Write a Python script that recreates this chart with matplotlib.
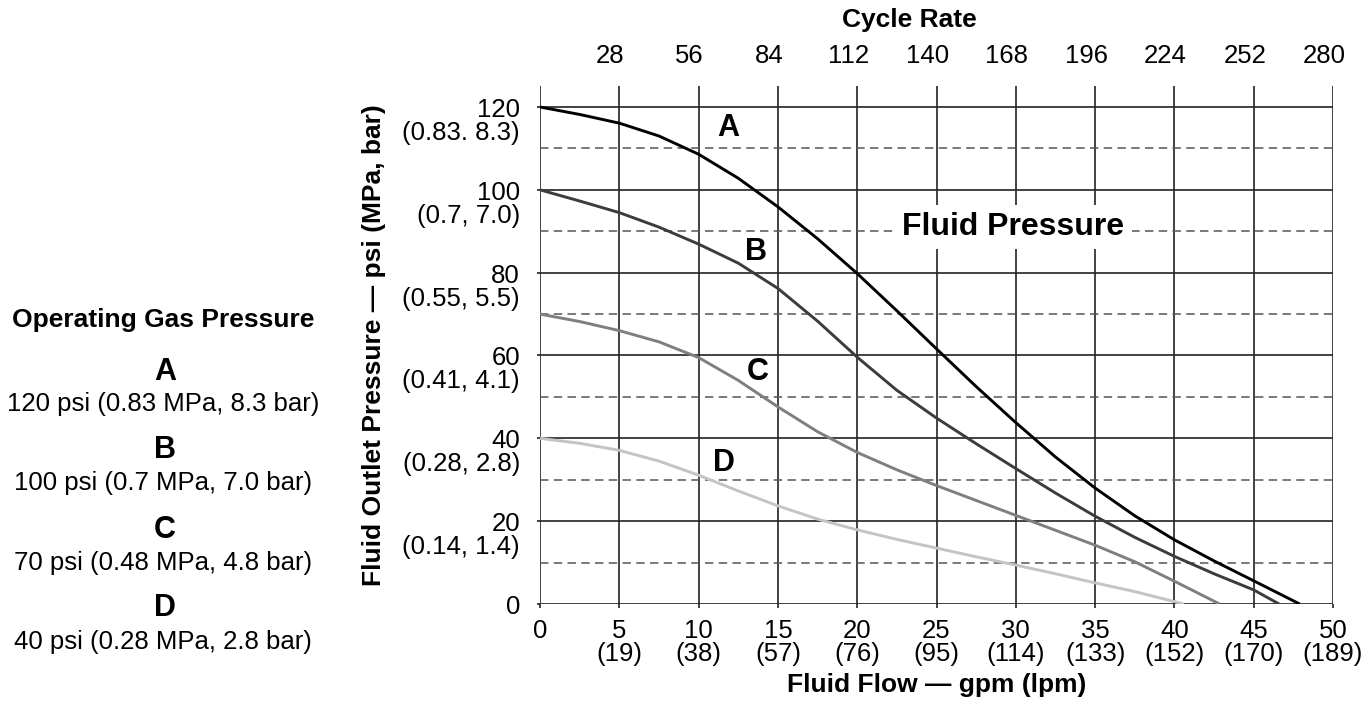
import matplotlib
matplotlib.use("Agg")
import matplotlib.pyplot as plt
from matplotlib.transforms import ScaledTranslation, blended_transform_factory

plt.rcParams['font.family'] = ['Liberation Sans', 'DejaVu Sans']

# ---------------- data ----------------
flow_A = [0, 2.5, 5, 7.5, 10, 12.5, 15, 17.5, 20, 22.5, 25, 27.5, 30, 32.5, 35, 37.5, 40, 42.5, 45, 47.9]
psi_A = [120, 118.2, 116.1, 113.0, 108.6, 102.8, 95.9, 88.2, 79.8, 70.8, 61.6, 52.5, 43.8, 35.5, 28.0, 21.3, 15.5, 10.4, 5.6, 0]

flow_B = [0, 2.5, 5, 7.5, 10, 12.5, 15, 17.5, 20, 22.5, 25, 27.5, 30, 32.5, 35, 37.5, 40, 42.5, 45, 46.6]
psi_B = [100, 97.3, 94.5, 91.0, 86.9, 82.3, 76.2, 68.3, 59.6, 51.6, 44.9, 38.7, 32.7, 26.8, 21.2, 16.1, 11.5, 7.3, 3.4, 0]

flow_C = [0, 2.5, 5, 7.5, 10, 12.5, 15, 17.5, 20, 22.5, 25, 27.5, 30, 32.5, 35, 37.5, 40, 42.85]
psi_C = [70, 68.2, 66.0, 63.3, 59.5, 54.0, 47.6, 41.6, 36.6, 32.4, 28.6, 25.0, 21.4, 17.8, 14.2, 10.2, 5.5, 0]

flow_D = [0, 2.5, 5, 7.5, 10, 12.5, 15, 17.5, 20, 22.5, 25, 27.5, 30, 32.5, 35, 37.5, 40.6]
psi_D = [40, 38.8, 37.1, 34.5, 31.1, 27.3, 23.7, 20.5, 17.9, 15.6, 13.5, 11.4, 9.4, 7.3, 5.1, 3.0, 0]

curve_names = ['A', 'B', 'C', 'D']
curve_colors = ['#000000', '#3c3c3c', '#7f7f7f', '#c4c4c4']

flow_ticks = [0, 5, 10, 15, 20, 25, 30, 35, 40, 45, 50]
lpm_labels = ['', '(19)', '(38)', '(57)', '(76)', '(95)', '(114)', '(133)', '(152)', '(170)', '(189)']

cycle_ticks = [28, 56, 84, 112, 140, 168, 196, 224, 252, 280]
cycles_per_gpm = 280 / 50

psi_ticks = [0, 20, 40, 60, 80, 100, 120]
metric_labels = ['', '(0.14, 1.4)', '(0.28, 2.8)', '(0.41, 4.1)', '(0.55, 5.5)', '(0.7, 7.0)', '(0.83. 8.3)']
psi_minor = [10, 30, 50, 70, 90, 110]

legend_psi = ['120 psi (0.83 MPa, 8.3 bar)', '100 psi (0.7 MPa, 7.0 bar)',
              '70 psi (0.48 MPa, 4.8 bar)', '40 psi (0.28 MPa, 2.8 bar)']

# ---------------- figure ----------------
W, H = 1366, 702
fig = plt.figure(figsize=(W / 100, H / 100), dpi=100)
ax = fig.add_axes([540 / W, 1 - 604 / H, (1333 - 540) / W, (604 - 86) / H])
ax.set_xlim(0, 50)
ax.set_ylim(0, 125.07)
for s in ax.spines.values():
    s.set_visible(False)

ax.set_xticks(flow_ticks)
ax.set_yticks(psi_ticks)
ax.set_yticks(psi_minor, minor=True)
ax.grid(which='major', axis='both', color='#222222', lw=1.2, zorder=1)
ax.grid(which='minor', axis='y', color='#555555', lw=1.1, linestyle=(0, (5.5, 3.5)), zorder=1)
ax.tick_params(axis='y', which='major', length=2.5, width=1.2, color='#222222', labelleft=False)
ax.tick_params(axis='y', which='minor', length=0, labelleft=False)
ax.tick_params(axis='x', which='major', length=3, width=1.2, color='#222222', direction='out',
               pad=8, labelsize=18.5)
ax.set_xticklabels([f"{f}\n{l}" if l else f"{f}" for f, l in zip(flow_ticks, lpm_labels)],
                   linespacing=0.95)

# curves
for fx, py, col in zip([flow_A, flow_B, flow_C, flow_D], [psi_A, psi_B, psi_C, psi_D], curve_colors):
    ax.plot(fx, py, color=col, lw=2.1, zorder=3, solid_capstyle='butt', solid_joinstyle='round')

# curve letters
letter_pos = [(11.9, 115.0), (13.6, 85.0), (13.7, 56.0), (11.6, 34.0)]
for name, (lx, ly) in zip(curve_names, letter_pos):
    ax.text(lx, ly, name, fontsize=22, fontweight='bold', ha='center', va='center', zorder=4)

ax.text(29.85, 89.2, 'Fluid Pressure', fontsize=23, fontweight='bold', ha='center', va='baseline',
        zorder=4, bbox=dict(facecolor='white', edgecolor='none', pad=5))

# y tick labels (two lines)
ytr = blended_transform_factory(ax.transAxes, ax.transData)
for p, m in zip(psi_ticks, metric_labels):
    t1 = ytr + ScaledTranslation(-20 / 100, -3 / 100, fig.dpi_scale_trans)
    ax.text(0, p, f"{p}", transform=t1, ha='right', va='center', fontsize=18.5)
    if m:
        t2 = ytr + ScaledTranslation(-20 / 100, -26 / 100, fig.dpi_scale_trans)
        ax.text(0, p, m, transform=t2, ha='right', va='center', fontsize=18.5)

# top cycle-rate labels
xtr = blended_transform_factory(ax.transData, ax.transAxes)
for c in cycle_ticks:
    tt = xtr + ScaledTranslation(-9 / 100, 30 / 100, fig.dpi_scale_trans)
    ax.text(c / cycles_per_gpm, 1, f"{c}", transform=tt, ha='center', va='center', fontsize=18.5)

# axis titles
fig.text(909 / W, 1 - 20 / H, 'Cycle Rate', fontsize=19, fontweight='bold', ha='center', va='center')
fig.text(937 / W, 1 - 685 / H, 'Fluid Flow — gpm (lpm)', fontsize=19, fontweight='bold',
         ha='center', va='center')
fig.text(374 / W, 1 - 345 / H, 'Fluid Outlet Pressure — psi (MPa, bar)', fontsize=19,
         fontweight='bold', ha='center', va='center', rotation=90)

# left legend block
fig.text(163 / W, 1 - 320 / H, 'Operating Gas Pressure', fontsize=19, fontweight='bold',
         ha='center', va='center')
letter_y = [372, 450, 530, 608]
desc_y = [404, 483, 563, 642]
for name, ly, desc, dy in zip(curve_names, letter_y, legend_psi, desc_y):
    fig.text(165 / W, 1 - ly / H, name, fontsize=22, fontweight='bold', ha='center', va='center')
    fig.text(163 / W, 1 - dy / H, desc, fontsize=18.5, ha='center', va='center')

fig.savefig('out.png', dpi=100, facecolor='white')
